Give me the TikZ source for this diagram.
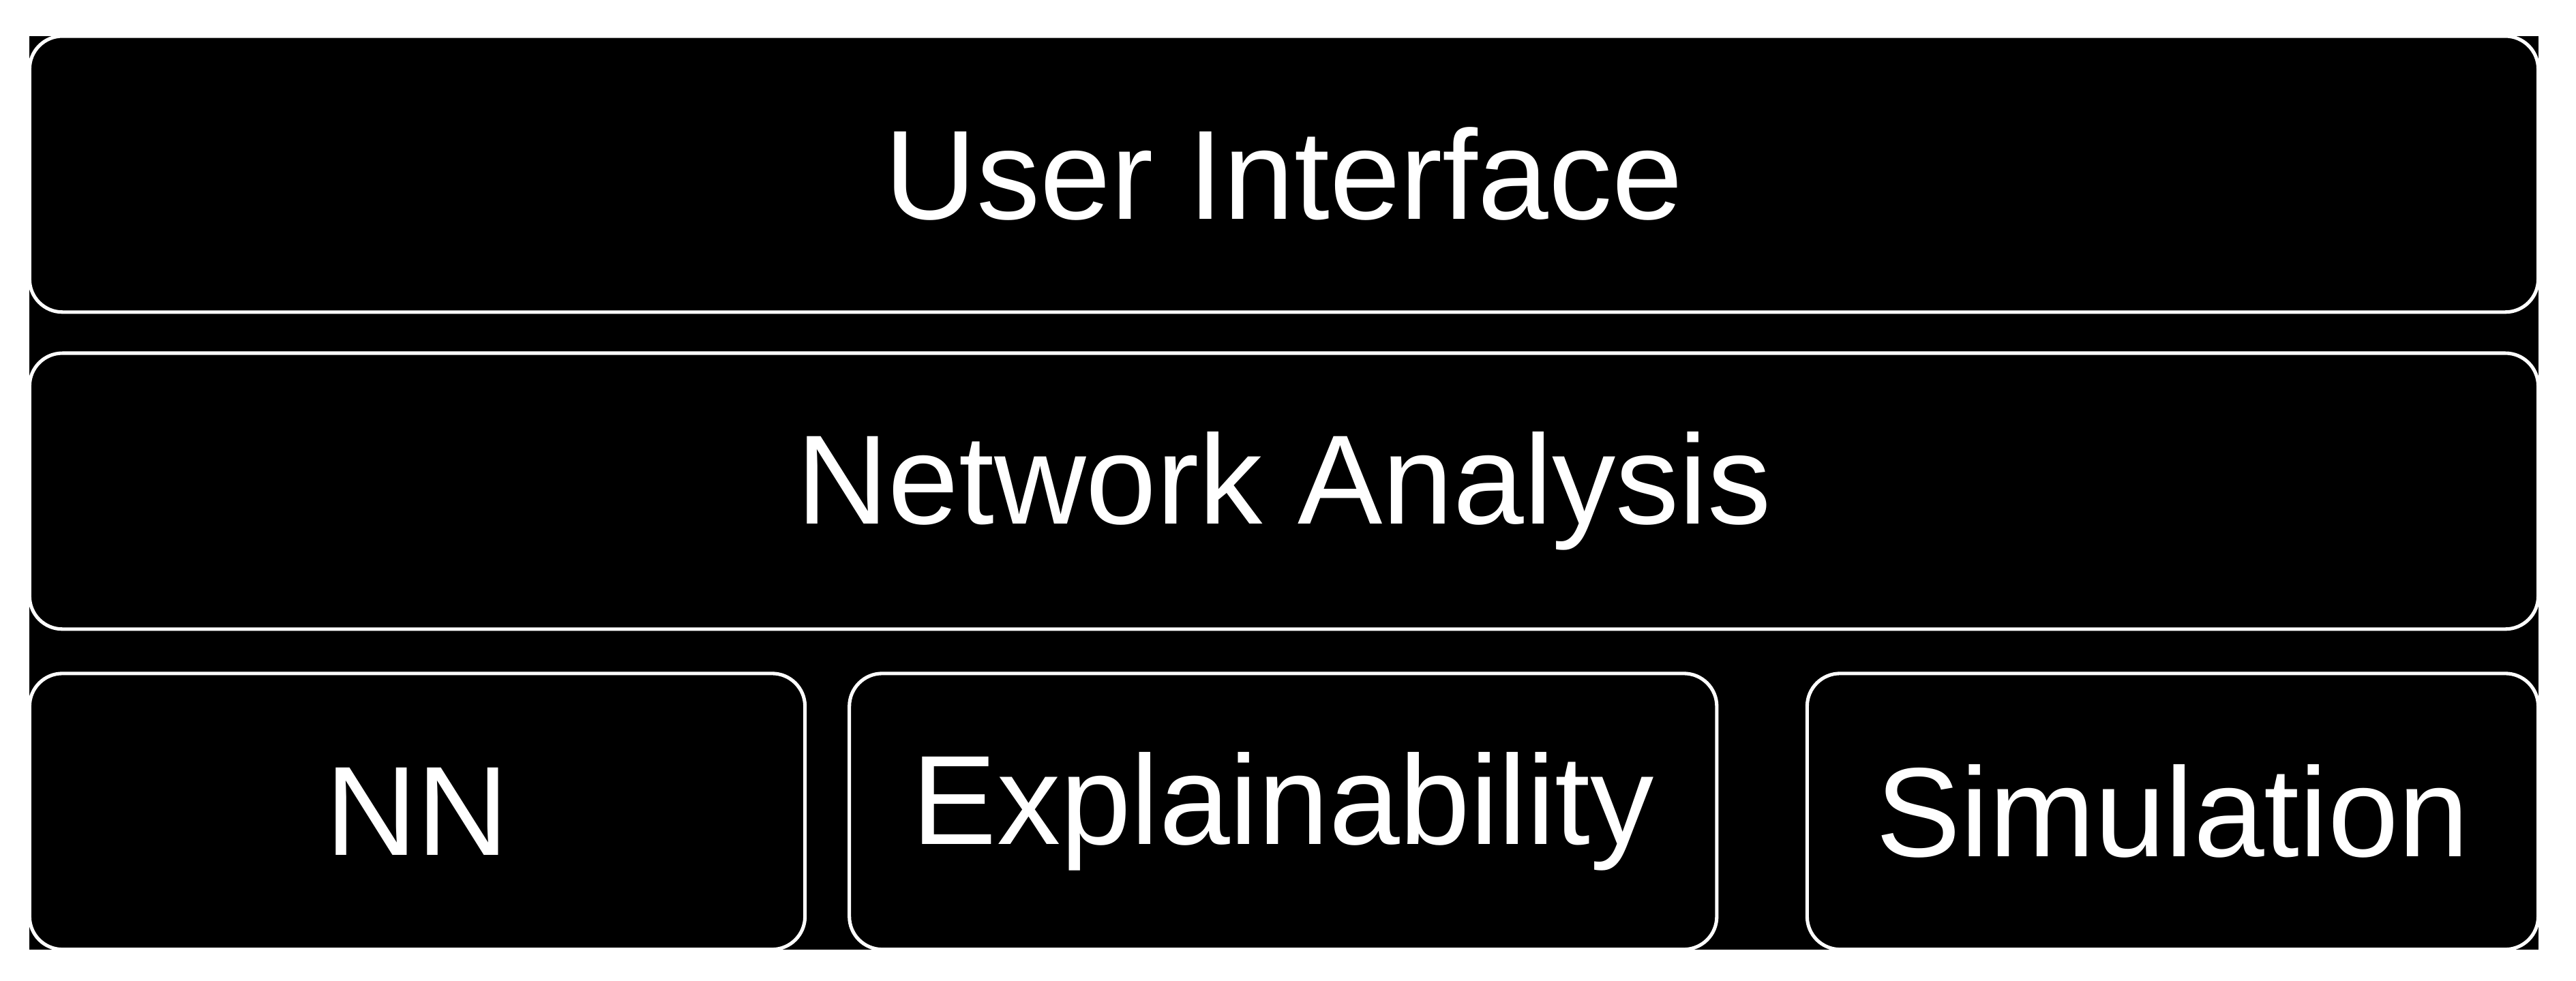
\documentclass[tikz,border=0pt]{standalone}
\usepackage{fontspec}
\setmainfont{Liberation Sans}
\tikzset{
  layer/.style = {draw = white, line width = 0.6pt, rounded corners = 0.2cm,
                  text = white, font = \fontsize{22}{26}\selectfont},
}
\begin{document}
\begin{tikzpicture}[x = 0.01cm, y = -0.01cm]
    \useasboundingbox (0, 0) rectangle (1568, 597);
    \fill [black] (18, 22) rectangle (1545, 578);
    % layers
    \draw [layer] (18, 22) rectangle node (ui) {User Interface} (1545, 190);
    \draw [layer] (18, 215) rectangle node (net) {Network Analysis} (1545, 383);
    \draw [layer] (18, 410) rectangle node (nn) {NN} (490, 578);
    \draw [layer] (517, 410) rectangle node (expl) {Explainability} (1045, 578);
    \draw [layer] (1100, 410) rectangle node (sim) {Simulation} (1545, 578);
\end{tikzpicture}
\end{document}
